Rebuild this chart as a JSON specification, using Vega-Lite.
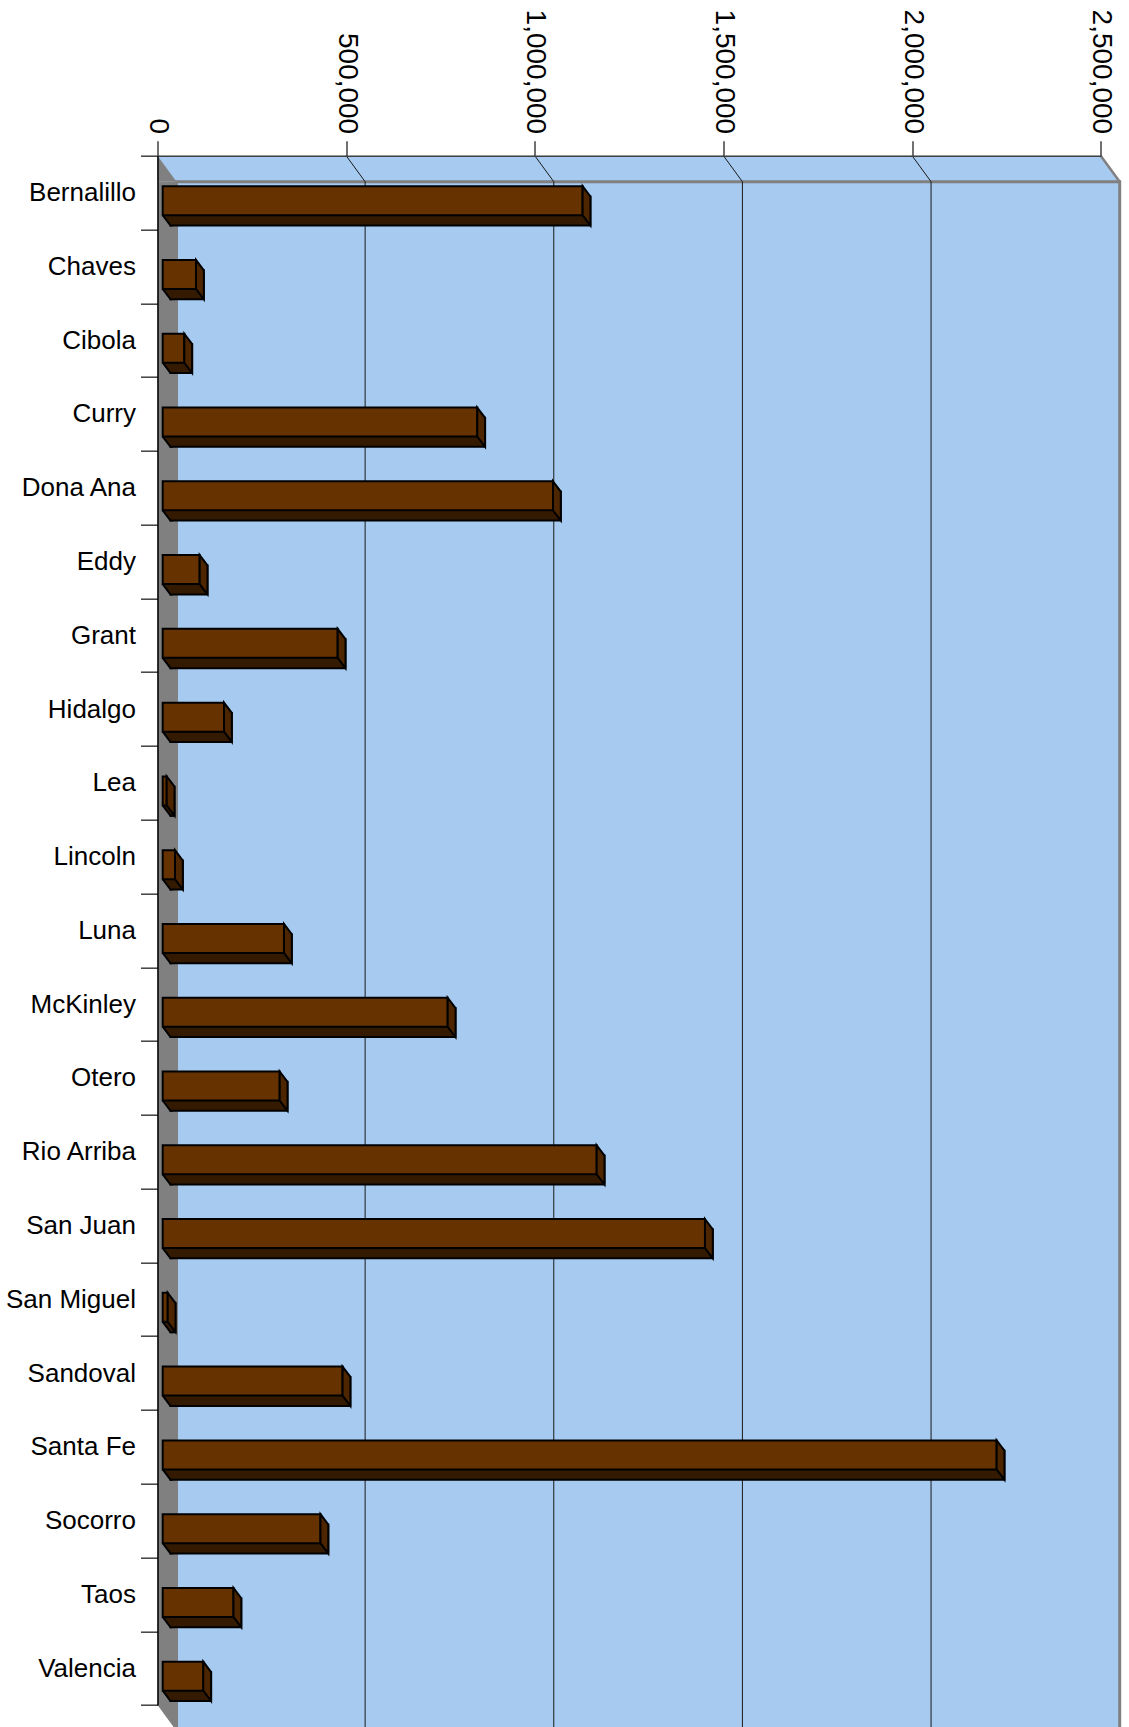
{
  "$schema": "https://vega.github.io/schema/vega-lite/v6.json",
  "width": 943.2,
  "height": 1549.3,
  "autosize": {"type": "none"},
  "padding": {"left": 157.5, "top": 155.7, "right": 28.3, "bottom": 22},
  "background": "white",
  "config": {"view": {"stroke": null}, "font": "Liberation Sans"},
  "datasets": {
    "counties": [
      {"county": "Bernalillo", "amount": 1113000},
      {"county": "Chaves", "amount": 88300},
      {"county": "Cibola", "amount": 57300},
      {"county": "Curry", "amount": 833800},
      {"county": "Dona Ana", "amount": 1034500},
      {"county": "Eddy", "amount": 98000},
      {"county": "Grant", "amount": 463800},
      {"county": "Hidalgo", "amount": 162500},
      {"county": "Lea", "amount": 10600},
      {"county": "Lincoln", "amount": 32600},
      {"county": "Luna", "amount": 321500},
      {"county": "McKinley", "amount": 755400},
      {"county": "Otero", "amount": 310100},
      {"county": "Rio Arriba", "amount": 1150300},
      {"county": "San Juan", "amount": 1437300},
      {"county": "San Miguel", "amount": 13300},
      {"county": "Sandoval", "amount": 476800},
      {"county": "Santa Fe", "amount": 2210400},
      {"county": "Socorro", "amount": 418200},
      {"county": "Taos", "amount": 187600},
      {"county": "Valencia", "amount": 107600}
    ],
    "grid": [{"tick": 500000}, {"tick": 1000000}, {"tick": 1500000}, {"tick": 2000000}],
    "one": [{"frame": "plot"}]
  },
  "data": {"name": "counties"},
  "layer": [
    {
      "data": {"name": "one"},
      "mark": {"type": "rect", "fill": "#A6CAF0", "strokeWidth": 0, "x2Offset": 19, "y2Offset": 26},
      "encoding": {
        "x": {"datum": 0, "type": "quantitative"},
        "x2": {"datum": 2500000},
        "y": {"datum": "Bernalillo", "bandPosition": 0, "type": "nominal"},
        "y2": {"datum": "Bernalillo", "bandPosition": 0}
      }
    },
    {
      "data": {"name": "one"},
      "mark": {"type": "point", "shape": "M0,0L19,26L20,26L20,-1L0,-1Z", "size": 4, "filled": true, "fill": "white", "strokeWidth": 0, "opacity": 1},
      "encoding": {
        "x": {"datum": 2500000, "type": "quantitative"},
        "y": {"datum": "Bernalillo", "bandPosition": 0, "type": "nominal"}
      }
    },
    {
      "data": {"name": "one"},
      "mark": {"type": "rect", "fill": "#A6CAF0", "stroke": "#808080", "strokeWidth": 3, "xOffset": 19, "x2Offset": 19, "yOffset": 26, "y2Offset": 26},
      "encoding": {
        "x": {"datum": 0, "type": "quantitative"},
        "x2": {"datum": 2500000},
        "y": {"datum": "Bernalillo", "bandPosition": 0, "type": "nominal"},
        "y2": {"datum": "Valencia", "bandPosition": 1}
      }
    },
    {
      "data": {"name": "one"},
      "mark": {"type": "rect", "fill": "#808080", "strokeWidth": 0, "x2Offset": 19, "yOffset": 26},
      "encoding": {
        "x": {"datum": 0, "type": "quantitative"},
        "x2": {"datum": 0},
        "y": {"datum": "Bernalillo", "bandPosition": 0, "type": "nominal"},
        "y2": {"datum": "Valencia", "bandPosition": 1}
      }
    },
    {
      "data": {"name": "one"},
      "mark": {"type": "point", "shape": "M0,0L19,26L0,26Z", "size": 4, "filled": true, "fill": "#808080", "strokeWidth": 0, "opacity": 1},
      "encoding": {
        "x": {"datum": 0, "type": "quantitative"},
        "y": {"datum": "Bernalillo", "bandPosition": 0, "type": "nominal"}
      }
    },
    {
      "data": {"name": "one"},
      "mark": {"type": "point", "shape": "M0,0L19,0L19,26Z", "size": 4, "filled": true, "fill": "#808080", "strokeWidth": 0, "opacity": 1},
      "encoding": {
        "x": {"datum": 0, "type": "quantitative"},
        "y": {"datum": "Valencia", "bandPosition": 1, "type": "nominal"}
      }
    },
    {
      "data": {"name": "one"},
      "mark": {"type": "point", "shape": "M0,0L19,26", "size": 4, "filled": false, "stroke": "#808080", "strokeWidth": 2.5, "opacity": 1},
      "encoding": {
        "x": {"datum": 2500000, "type": "quantitative"},
        "y": {"datum": "Bernalillo", "bandPosition": 0, "type": "nominal"}
      }
    },
    {
      "data": {"name": "grid"},
      "mark": {"type": "rule", "stroke": "#1a1a1a", "strokeWidth": 1, "x2Offset": 19, "y2Offset": 26},
      "encoding": {
        "x": {"field": "tick", "type": "quantitative"},
        "x2": {"field": "tick"},
        "y": {"datum": "Bernalillo", "bandPosition": 0, "type": "nominal"},
        "y2": {"datum": "Bernalillo", "bandPosition": 0}
      }
    },
    {
      "data": {"name": "grid"},
      "mark": {"type": "rule", "stroke": "#1a1a1a", "strokeWidth": 1, "xOffset": 19, "yOffset": 26, "y2Offset": 26},
      "encoding": {
        "x": {"field": "tick", "type": "quantitative"},
        "y": {"datum": "Bernalillo", "bandPosition": 0, "type": "nominal"},
        "y2": {"datum": "Valencia", "bandPosition": 1}
      }
    },
    {
      "mark": {"type": "bar", "height": {"band": 0.393}, "fill": "#331a00", "stroke": "black", "strokeWidth": 2, "xOffset": 13, "x2Offset": 13, "yOffset": 18.41},
      "encoding": {
        "x": {"field": "amount", "type": "quantitative"},
        "x2": {"datum": 0},
        "y": {"field": "county", "type": "nominal"}
      }
    },
    {
      "mark": {"type": "point", "shape": "M0,0L7.8,10.3L10,10.3L10,-1.5L0,-1.5Z", "size": 4, "filled": true, "fill": "#331a00", "strokeWidth": 0, "opacity": 1, "xOffset": 5.2, "yOffset": 22.61},
      "encoding": {
        "x": {"datum": 0, "type": "quantitative"},
        "y": {"field": "county", "type": "nominal"}
      }
    },
    {
      "mark": {"type": "point", "shape": "M0,0L7.8,10.3L10,10.3", "size": 4, "filled": false, "stroke": "black", "strokeWidth": 2, "opacity": 1, "xOffset": 5.2, "yOffset": 22.61},
      "encoding": {
        "x": {"datum": 0, "type": "quantitative"},
        "y": {"field": "county", "type": "nominal"}
      }
    },
    {
      "mark": {"type": "bar", "height": {"band": 0.393}, "fill": "#663300", "stroke": "black", "strokeWidth": 2, "xOffset": 5.2, "x2Offset": 5.2, "yOffset": 8.11},
      "encoding": {
        "x": {
          "field": "amount",
          "type": "quantitative",
          "scale": {"domain": [0, 2500000], "nice": false, "zero": true},
          "axis": {
            "orient": "top",
            "title": null,
            "values": [0, 500000, 1000000, 1500000, 2000000, 2500000],
            "format": ",",
            "labelExpr": "format(datum.value, ',')",
            "labelAngle": 90,
            "labelAlign": "right",
            "labelBaseline": "middle",
            "labelFont": "Liberation Sans",
            "labelFontSize": 28,
            "labelColor": "black",
            "labelPadding": 7,
            "labelFlush": false,
            "labelOverlap": false,
            "tickSize": 15,
            "tickColor": "#404040",
            "tickWidth": 1.5,
            "domainColor": "#404040",
            "domainWidth": 1.5,
            "grid": false,
            "zindex": 1
          }
        },
        "x2": {"datum": 0},
        "y": {
          "field": "county",
          "type": "nominal",
          "scale": {
            "type": "band",
            "paddingInner": 0,
            "paddingOuter": 0,
            "domain": ["Bernalillo", "Chaves", "Cibola", "Curry", "Dona Ana", "Eddy", "Grant", "Hidalgo", "Lea", "Lincoln", "Luna", "McKinley", "Otero", "Rio Arriba", "San Juan", "San Miguel", "Sandoval", "Santa Fe", "Socorro", "Taos", "Valencia"]
          },
          "axis": {
            "orient": "left",
            "title": null,
            "tickBand": "extent",
            "tickSize": 17,
            "tickColor": "#404040",
            "tickWidth": 1.5,
            "domainColor": "black",
            "domainWidth": 1.5,
            "labelFont": "Liberation Sans",
            "labelFontSize": 26,
            "labelColor": "black",
            "labelPadding": 5,
            "grid": false,
            "zindex": 1
          }
        }
      }
    },
    {
      "mark": {"type": "point", "shape": "M0,0L7.8,10.3L7.8,39.3L0,29Z", "size": 4, "filled": true, "fill": "#4d2600", "stroke": "black", "strokeWidth": 2, "opacity": 1, "xOffset": 5.2, "yOffset": -6.39},
      "encoding": {
        "x": {"field": "amount", "type": "quantitative"},
        "y": {"field": "county", "type": "nominal"}
      }
    }
  ]
}
